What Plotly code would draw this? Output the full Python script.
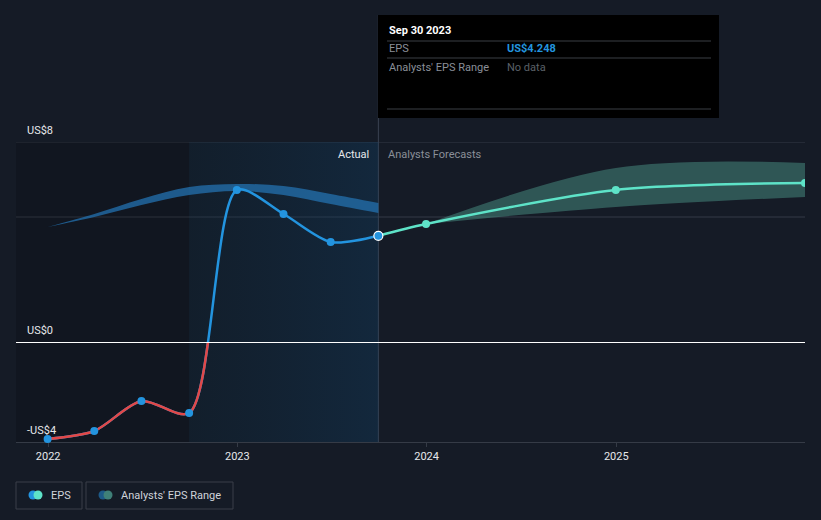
import plotly.graph_objects as go

# ---------------- data ----------------
actual_dates = ["2021-12-31", "2022-03-31", "2022-06-30", "2022-09-30",
                "2022-12-31", "2023-03-31", "2023-06-30", "2023-09-30"]
actual_eps = [-3.88, -3.56, -2.36, -2.84, 6.08, 5.12, 4.00, 4.248]

past_band_dates = ["2021-12-31", "2022-03-31", "2022-06-30", "2022-09-30",
                   "2022-12-31", "2023-03-31", "2023-06-30", "2023-09-30"]
past_band_low = [4.60, 5.00, 5.48, 5.88, 6.04, 5.88, 5.52, 5.16]
past_band_high = [4.60, 5.12, 5.72, 6.20, 6.32, 6.24, 5.92, 5.56]

fc_dates = ["2023-09-30", "2023-12-31", "2024-12-31", "2025-12-31"]
fc_eps = [4.248, 4.72, 6.08, 6.36]

fc_band_dates = ["2023-12-31", "2024-12-31", "2025-12-31"]
fc_band_low = [4.72, 5.40, 5.80]
fc_band_high = [4.72, 6.96, 7.16]

y_tick_vals = [-4, 0, 8]
y_tick_text = ["-US$4", "US$0", "US$8"]
grid_vals = [5, 8]
year_ticks = ["2022-01-01", "2023-01-01", "2024-01-01", "2025-01-01"]
year_labels = ["2022", "2023", "2024", "2025"]

# ---------------- styling ----------------
BG = "#151b26"
GRID = "#353b46"
BLUE = "#2394df"
RED = "#e24848"
TEAL = "#5ee3c8"
FONT = "Roboto"
SMOOTH = 0.8

W, H = 821, 520
ML, MR, MT, MB = 16, 16, 142, 78
PW, PH = W - ML - MR, H - MT - MB


def px_x(p):
    return (p - ML) / PW


def px_y(p):
    return (H - MB - p) / PH


fig = go.Figure()

# highlighted (last year of actuals) gradient region
hl_x = [actual_dates[3], actual_dates[-1], actual_dates[-1], actual_dates[3], actual_dates[3]]
hl_y = [-4, -4, 8, 8, -4]
fig.add_trace(go.Scatter(
    x=hl_x, y=hl_y, mode="none", fill="toself",
    fillgradient=dict(type="horizontal",
                      colorscale=[[0, "rgba(10,40,60,0.25)"], [1, "rgba(15,65,105,0.34)"]]),
    hoverinfo="skip", showlegend=False))

# past analyst band
fig.add_trace(go.Scatter(x=past_band_dates, y=past_band_low, mode="lines",
                         line=dict(width=0, shape="spline", smoothing=1.0),
                         hoverinfo="skip", showlegend=False))
fig.add_trace(go.Scatter(x=past_band_dates, y=past_band_high, mode="lines",
                         line=dict(width=0, shape="spline", smoothing=1.0),
                         fill="tonexty", fillcolor="rgba(35,110,170,0.78)",
                         hoverinfo="skip", showlegend=False))

# forecast band
fig.add_trace(go.Scatter(x=fc_band_dates, y=fc_band_low, mode="lines",
                         line=dict(width=0, shape="spline", smoothing=1.0),
                         hoverinfo="skip", showlegend=False))
fig.add_trace(go.Scatter(x=fc_band_dates, y=fc_band_high, mode="lines",
                         line=dict(width=0, shape="spline", smoothing=1.0),
                         fill="tonexty", fillcolor="rgba(79,160,145,0.45)",
                         hoverinfo="skip", showlegend=False))

# actual EPS line (blue)
fig.add_trace(go.Scatter(x=actual_dates, y=actual_eps, mode="lines",
                         line=dict(color=BLUE, width=2.5, shape="spline", smoothing=SMOOTH),
                         hoverinfo="skip", showlegend=False))

# forecast line
fig.add_trace(go.Scatter(x=fc_dates, y=fc_eps, mode="lines",
                         line=dict(color=TEAL, width=2.5, shape="spline", smoothing=SMOOTH),
                         hoverinfo="skip", showlegend=False))
fig.add_trace(go.Scatter(x=fc_dates[1:], y=fc_eps[1:], mode="markers",
                         marker=dict(color=TEAL, size=8),
                         hoverinfo="skip", showlegend=False))

# positive actual markers
pos = [(d, v) for d, v in zip(actual_dates[:-1], actual_eps[:-1]) if v >= 0]
fig.add_trace(go.Scatter(x=[p[0] for p in pos], y=[p[1] for p in pos], mode="markers",
                         marker=dict(color=BLUE, size=8),
                         hoverinfo="skip", showlegend=False))
# last actual marker (highlighted)
fig.add_trace(go.Scatter(x=[actual_dates[-1]], y=[actual_eps[-1]], mode="markers",
                         marker=dict(color=BLUE, size=9, line=dict(color="white", width=1.2)),
                         hoverinfo="skip", showlegend=False))

# red (negative) part, on a sub-axis covering only the negative range (clips at 0)
fig.add_trace(go.Scatter(x=actual_dates, y=actual_eps, mode="lines", yaxis="y2",
                         line=dict(color=RED, width=2.5, shape="spline", smoothing=SMOOTH),
                         hoverinfo="skip", showlegend=False))
neg = [(d, v) for d, v in zip(actual_dates, actual_eps) if v < 0]
fig.add_trace(go.Scatter(x=[p[0] for p in neg], y=[p[1] for p in neg], mode="markers",
                         yaxis="y2", cliponaxis=False,
                         marker=dict(color=BLUE, size=8),
                         hoverinfo="skip", showlegend=False))

shapes = []
# left darker region
shapes.append(dict(type="rect", xref="x", yref="y", x0="2021-10-31", x1=actual_dates[3],
                   y0=-4, y1=8, layer="below", line=dict(width=0),
                   fillcolor="rgba(0,0,0,0.15)"))
# grid lines
for g in grid_vals:
    shapes.append(dict(type="line", xref="paper", yref="y", x0=0, x1=1, y0=g, y1=g,
                       line=dict(color=GRID, width=1), layer="below"))
# zero line
shapes.append(dict(type="line", xref="paper", yref="paper", x0=0, x1=1,
                   y0=px_y(342.5), y1=px_y(342.5),
                   line=dict(color="#ffffff", width=1), layer="above"))
# vertical "now" line
shapes.append(dict(type="line", xref="x", yref="paper", x0=actual_dates[-1], x1=actual_dates[-1],
                   y0=0, y1=px_y(15), line=dict(color="#3a4352", width=1), layer="below"))

# tooltip box
shapes.append(dict(type="rect", xref="paper", yref="paper",
                   x0=px_x(378), x1=px_x(719), y0=px_y(118), y1=px_y(15),
                   fillcolor="#000000", line=dict(width=0), layer="above"))
for ly in [41, 58, 109]:
    shapes.append(dict(type="line", xref="paper", yref="paper",
                       x0=px_x(387), x1=px_x(711), y0=px_y(ly), y1=px_y(ly),
                       line=dict(color="#3b3f45", width=1), layer="above"))

# legend boxes
for bx0, bx1 in [(16, 82), (86, 233)]:
    shapes.append(dict(type="rect", xref="paper", yref="paper",
                       x0=px_x(bx0), x1=px_x(bx1), y0=px_y(509), y1=px_y(482),
                       line=dict(color="#3a3f48", width=1), fillcolor="rgba(0,0,0,0)"))
r = 4.5
for cx, col in [(33, BLUE), (38, TEAL), (103, "#1d5a88"), (108, "#3f8078")]:
    shapes.append(dict(type="circle", xref="paper", yref="paper",
                       x0=px_x(cx - r), x1=px_x(cx + r), y0=px_y(495 + r), y1=px_y(495 - r),
                       fillcolor=col, line=dict(width=0)))

annotations = []


def txt(x, y, text, color, xref="paper", yref="paper", xanchor="left", **kw):
    d = dict(xref=xref, yref=yref, x=x, y=y, text=text, xanchor=xanchor,
             yanchor="middle", showarrow=False,
             font=dict(family=FONT, size=11, color=color))
    d.update(kw)
    annotations.append(d)


# y labels
for v, t in zip(y_tick_vals, y_tick_text):
    annotations.append(dict(xref="paper", yref="y", x=px_x(25), y=v, text=t,
                            xanchor="left", yanchor="bottom", yshift=3, showarrow=False,
                            font=dict(family=FONT, size=11, color="#e6e8eb")))
# Actual / Analysts Forecasts
txt(actual_dates[-1], px_y(154), "Actual", "#e6e8eb", xref="x", xanchor="right", xshift=-7)
txt(actual_dates[-1], px_y(154), "Analysts Forecasts", "#8a8f98", xref="x", xshift=8)
# tooltip texts
txt(px_x(387), px_y(31), "<b>Sep 30 2023</b>", "#ffffff")
txt(px_x(387), px_y(49), "EPS", "#8a8f98")
txt(px_x(505), px_y(49), "<b>US$4.248</b>", BLUE)
txt(px_x(387), px_y(67), "Analysts' EPS Range", "#8a8f98")
txt(px_x(505), px_y(67), "No data", "#5b6068")
# legend texts
txt(px_x(49), px_y(495), "EPS", "#cfd3da")
txt(px_x(119), px_y(495), "Analysts' EPS Range", "#cfd3da")

fig.update_layout(
    width=W, height=H,
    margin=dict(l=ML, r=MR, t=MT, b=MB, pad=0),
    paper_bgcolor=BG, plot_bgcolor="rgba(0,0,0,0)",
    showlegend=False,
    xaxis=dict(type="date", range=["2021-10-31", "2025-12-31"],
               tickvals=year_ticks, ticktext=year_labels,
               showgrid=False, zeroline=False,
               showline=True, linecolor=GRID, linewidth=1,
               ticks="outside", ticklen=4, tickcolor=GRID,
               tickfont=dict(family=FONT, size=11, color="#e6e8eb")),
    yaxis=dict(range=[-4, 8], domain=[0, 1], showgrid=False, zeroline=False,
               showticklabels=False, fixedrange=True),
    yaxis2=dict(range=[-4, 0], domain=[0, 4 / 12], anchor="x", visible=False,
                showgrid=False, zeroline=False),
    shapes=shapes, annotations=annotations,
    hovermode=False,
)

fig.write_html("out.html")
